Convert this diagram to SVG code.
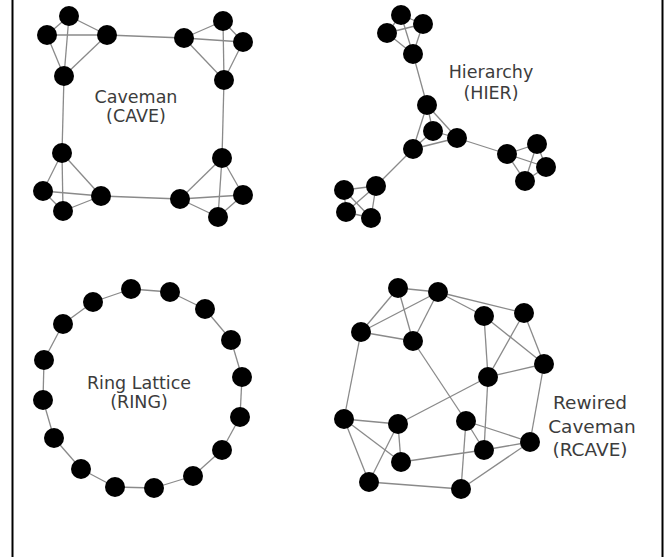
<svg xmlns="http://www.w3.org/2000/svg" width="667" height="557" viewBox="0 0 667 557">
<style>
.n{fill:#000}
.e line{stroke:#8a8a8a;stroke-width:1.3}
.t{font-family:"DejaVu Sans",sans-serif;font-size:17.5px;fill:#3c3c3c;text-anchor:middle}
.t2{font-family:"DejaVu Sans",sans-serif;font-size:18.5px;fill:#3c3c3c;text-anchor:middle}
.frame{stroke:#000;stroke-width:2}
</style>
<rect width="667" height="557" fill="#fff"/>
<line class="frame" x1="12.5" y1="0" x2="12.5" y2="557"/>
<line class="frame" x1="662.5" y1="0" x2="662.5" y2="557"/>
<g id="connectors" class="e">
<!-- CAVE -->
<line x1="47" y1="35" x2="69" y2="16"/><line x1="47" y1="35" x2="107" y2="35"/><line x1="69" y1="16" x2="107" y2="35"/><line x1="69" y1="16" x2="64" y2="76"/><line x1="47" y1="35" x2="64" y2="76"/><line x1="107" y1="35" x2="64" y2="76"/>
<line x1="184" y1="38" x2="223" y2="21"/><line x1="184" y1="38" x2="243" y2="42"/><line x1="223" y1="21" x2="243" y2="42"/><line x1="223" y1="21" x2="224" y2="80"/><line x1="184" y1="38" x2="224" y2="80"/><line x1="243" y1="42" x2="224" y2="80"/>
<line x1="62" y1="153" x2="43" y2="191"/><line x1="62" y1="153" x2="63" y2="211"/><line x1="62" y1="153" x2="101" y2="196"/><line x1="43" y1="191" x2="101" y2="196"/><line x1="43" y1="191" x2="63" y2="211"/><line x1="63" y1="211" x2="101" y2="196"/>
<line x1="222" y1="158" x2="180" y2="199"/><line x1="222" y1="158" x2="218" y2="217"/><line x1="222" y1="158" x2="243" y2="195"/><line x1="180" y1="199" x2="243" y2="195"/><line x1="180" y1="199" x2="218" y2="217"/><line x1="218" y1="217" x2="243" y2="195"/>
<line x1="107" y1="35" x2="184" y2="38"/><line x1="64" y1="76" x2="62" y2="153"/><line x1="224" y1="80" x2="222" y2="158"/><line x1="101" y1="196" x2="180" y2="199"/>
<!-- HIER -->
<line x1="401" y1="15" x2="387" y2="33"/><line x1="401" y1="15" x2="423" y2="24"/><line x1="387" y1="33" x2="423" y2="24"/><line x1="401" y1="15" x2="413" y2="54"/><line x1="387" y1="33" x2="413" y2="54"/><line x1="423" y1="24" x2="413" y2="54"/>
<line x1="427" y1="105" x2="433" y2="131"/><line x1="427" y1="105" x2="457" y2="138"/><line x1="427" y1="105" x2="413" y2="149"/><line x1="433" y1="131" x2="457" y2="138"/><line x1="433" y1="131" x2="413" y2="149"/><line x1="413" y1="149" x2="457" y2="138"/>
<line x1="507" y1="154" x2="537" y2="144"/><line x1="507" y1="154" x2="546" y2="167"/><line x1="507" y1="154" x2="525" y2="181"/><line x1="537" y1="144" x2="546" y2="167"/><line x1="537" y1="144" x2="525" y2="181"/><line x1="546" y1="167" x2="525" y2="181"/>
<line x1="376" y1="186" x2="344" y2="190"/><line x1="376" y1="186" x2="346" y2="212"/><line x1="376" y1="186" x2="371" y2="218"/><line x1="344" y1="190" x2="346" y2="212"/><line x1="344" y1="190" x2="371" y2="218"/><line x1="346" y1="212" x2="371" y2="218"/>
<line x1="413" y1="54" x2="427" y2="105"/><line x1="457" y1="138" x2="507" y2="154"/><line x1="413" y1="149" x2="376" y2="186"/>
<!-- RING -->
<line x1="131" y1="289" x2="170" y2="292"/><line x1="170" y1="292" x2="205" y2="309"/><line x1="205" y1="309" x2="231" y2="340"/><line x1="231" y1="340" x2="242" y2="377"/><line x1="242" y1="377" x2="240" y2="417"/><line x1="240" y1="417" x2="222" y2="450"/><line x1="222" y1="450" x2="193" y2="476"/><line x1="193" y1="476" x2="154" y2="488"/><line x1="154" y1="488" x2="115" y2="487"/><line x1="115" y1="487" x2="81" y2="469"/><line x1="81" y1="469" x2="54" y2="438"/><line x1="54" y1="438" x2="43" y2="400"/><line x1="43" y1="400" x2="44" y2="360"/><line x1="44" y1="360" x2="63" y2="324"/><line x1="63" y1="324" x2="93" y2="302"/><line x1="93" y1="302" x2="131" y2="289"/>
<!-- RCAVE -->
<line x1="398" y1="288" x2="438" y2="292"/><line x1="398" y1="288" x2="361" y2="332"/><line x1="398" y1="288" x2="413" y2="341"/><line x1="438" y1="292" x2="361" y2="332"/><line x1="438" y1="292" x2="413" y2="341"/><line x1="361" y1="332" x2="413" y2="341"/>
<line x1="438" y1="292" x2="484" y2="316"/><line x1="438" y1="292" x2="524" y2="313"/>
<line x1="484" y1="316" x2="488" y2="377"/><line x1="484" y1="316" x2="544" y2="364"/><line x1="524" y1="313" x2="488" y2="377"/><line x1="524" y1="313" x2="544" y2="364"/><line x1="488" y1="377" x2="544" y2="364"/>
<line x1="361" y1="332" x2="344" y2="419"/><line x1="413" y1="341" x2="466" y2="421"/><line x1="488" y1="377" x2="398" y2="424"/><line x1="488" y1="377" x2="484" y2="450"/><line x1="544" y1="364" x2="530" y2="442"/>
<line x1="344" y1="419" x2="398" y2="424"/><line x1="344" y1="419" x2="401" y2="462"/><line x1="344" y1="419" x2="369" y2="482"/><line x1="398" y1="424" x2="401" y2="462"/><line x1="398" y1="424" x2="369" y2="482"/>
<line x1="466" y1="421" x2="484" y2="450"/><line x1="466" y1="421" x2="530" y2="442"/><line x1="466" y1="421" x2="461" y2="489"/>
<line x1="401" y1="462" x2="484" y2="450"/><line x1="484" y1="450" x2="530" y2="442"/><line x1="530" y1="442" x2="461" y2="489"/><line x1="369" y1="482" x2="461" y2="489"/>
</g>
<g id="cave" class="n">
<circle id="cave1" cx="47" cy="35" r="10"/><circle id="cave2" cx="69" cy="16" r="10"/><circle id="cave3" cx="107" cy="35" r="10"/><circle id="cave4" cx="64" cy="76" r="10"/>
<circle id="cave5" cx="184" cy="38" r="10"/><circle id="cave6" cx="223" cy="21" r="10"/><circle id="cave7" cx="243" cy="42" r="10"/><circle id="cave8" cx="224" cy="80" r="10"/>
<circle id="cave9" cx="62" cy="153" r="10"/><circle id="cave10" cx="43" cy="191" r="10"/><circle id="cave11" cx="63" cy="211" r="10"/><circle id="cave12" cx="101" cy="196" r="10"/>
<circle id="cave13" cx="222" cy="158" r="10"/><circle id="cave14" cx="180" cy="199" r="10"/><circle id="cave15" cx="218" cy="217" r="10"/><circle id="cave16" cx="243" cy="195" r="10"/>
</g>
<g id="hier" class="n">
<circle id="hier1" cx="401" cy="15" r="10"/><circle id="hier2" cx="387" cy="33" r="10"/><circle id="hier3" cx="423" cy="24" r="10"/><circle id="hier4" cx="413" cy="54" r="10"/>
<circle id="hier5" cx="427" cy="105" r="10"/><circle id="hier6" cx="433" cy="131" r="10"/><circle id="hier7" cx="457" cy="138" r="10"/><circle id="hier8" cx="413" cy="149" r="10"/>
<circle id="hier9" cx="507" cy="154" r="10"/><circle id="hier10" cx="537" cy="144" r="10"/><circle id="hier11" cx="546" cy="167" r="10"/><circle id="hier12" cx="525" cy="181" r="10"/>
<circle id="hier13" cx="376" cy="186" r="10"/><circle id="hier14" cx="344" cy="190" r="10"/><circle id="hier15" cx="346" cy="212" r="10"/><circle id="hier16" cx="371" cy="218" r="10"/>
</g>
<g id="ring" class="n">
<circle cx="131" cy="289" r="10"/><circle cx="170" cy="292" r="10"/><circle cx="205" cy="309" r="10"/><circle cx="231" cy="340" r="10"/><circle cx="242" cy="377" r="10"/><circle cx="240" cy="417" r="10"/><circle cx="222" cy="450" r="10"/><circle cx="193" cy="476" r="10"/><circle cx="154" cy="488" r="10"/><circle cx="115" cy="487" r="10"/><circle cx="81" cy="469" r="10"/><circle cx="54" cy="438" r="10"/><circle cx="43" cy="400" r="10"/><circle cx="44" cy="360" r="10"/><circle cx="63" cy="324" r="10"/><circle cx="93" cy="302" r="10"/>
</g>
<g id="rcave" class="n">
<circle cx="398" cy="288" r="10"/><circle cx="438" cy="292" r="10"/><circle cx="484" cy="316" r="10"/><circle cx="524" cy="313" r="10"/><circle cx="361" cy="332" r="10"/><circle cx="413" cy="341" r="10"/><circle cx="544" cy="364" r="10"/><circle cx="488" cy="377" r="10"/><circle cx="344" cy="419" r="10"/><circle cx="398" cy="424" r="10"/><circle cx="466" cy="421" r="10"/><circle cx="484" cy="450" r="10"/><circle cx="530" cy="442" r="10"/><circle cx="401" cy="462" r="10"/><circle cx="369" cy="482" r="10"/><circle cx="461" cy="489" r="10"/>
</g>
<g id="labels">
<text class="t" x="136" y="103">Caveman</text><text class="t" x="136" y="122">(CAVE)</text>
<text class="t" x="491" y="78">Hierarchy</text><text class="t" x="491" y="99">(HIER)</text>
<text class="t" x="139" y="389">Ring Lattice</text><text class="t" x="139" y="408">(RING)</text>
<text class="t2" x="590" y="409">Rewired</text><text class="t2" x="592" y="433">Caveman</text><text class="t2" x="590" y="456">(RCAVE)</text>
</g>
</svg>
